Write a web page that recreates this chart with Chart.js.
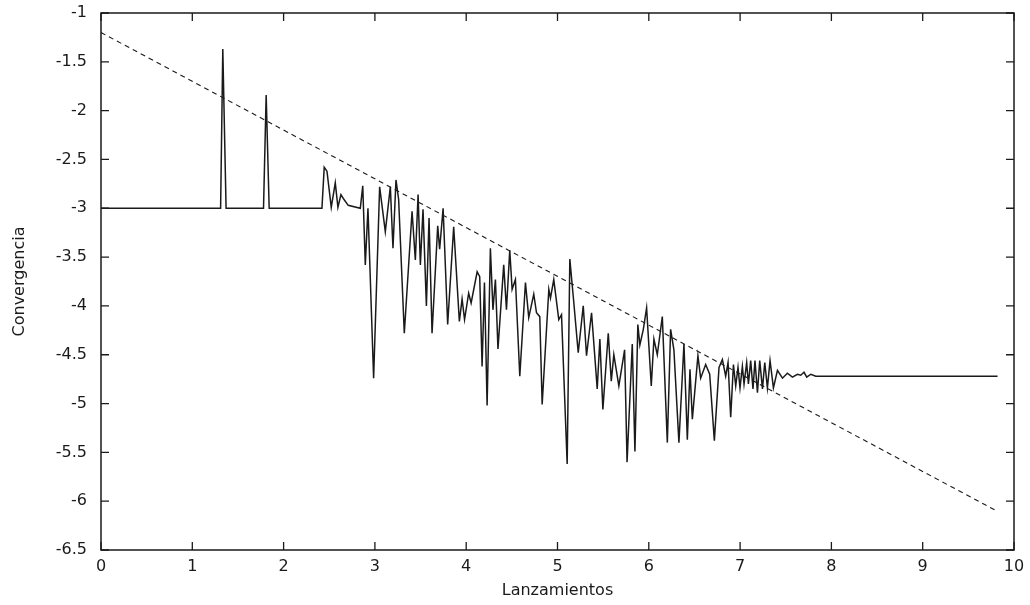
<!DOCTYPE html>
<html>
<head>
<meta charset="utf-8">
<script src="https://cdn.jsdelivr.net/npm/chart.js@4.4.1/dist/chart.umd.min.js"></script>
<style>
  html, body { margin: 0; padding: 0; background: #ffffff; }
  #wrap { width: 1030px; height: 605px; position: relative; }
</style>
</head>
<body>
<div id="wrap"><canvas id="c" width="1030" height="605"></canvas></div>
<script>
// ---- Data ----
const xTitle = 'Lanzamientos';
const yTitle = 'Convergencia';
const xTicks = [0, 1, 2, 3, 4, 5, 6, 7, 8, 9, 10];
const yTicks = [-1, -1.5, -2, -2.5, -3, -3.5, -4, -4.5, -5, -5.5, -6, -6.5];

const convX = [
  0, 1.31, 1.334, 1.37, 1.78, 1.809, 1.842, 2.42, 2.445, 2.475,
  2.522, 2.566, 2.595, 2.628, 2.654, 2.708, 2.840, 2.867, 2.895, 2.924,
  2.986, 3.052, 3.114, 3.169, 3.198, 3.231, 3.260, 3.322, 3.407, 3.443,
  3.473, 3.498, 3.527, 3.564, 3.593, 3.626, 3.688, 3.709, 3.747, 3.797,
  3.863, 3.925, 3.955, 3.982, 4.027, 4.054, 4.120, 4.148, 4.174, 4.200,
  4.229, 4.265, 4.293, 4.320, 4.348, 4.411, 4.441, 4.477, 4.503, 4.539,
  4.587, 4.649, 4.685, 4.740, 4.770, 4.806, 4.832, 4.905, 4.923, 4.959,
  5.014, 5.044, 5.106, 5.135, 5.179, 5.227, 5.282, 5.318, 5.373, 5.435,
  5.464, 5.497, 5.556, 5.589, 5.617, 5.672, 5.735, 5.762, 5.819, 5.848,
  5.880, 5.902, 5.940, 5.976, 6.027, 6.056, 6.093, 6.148, 6.203, 6.239,
  6.275, 6.330, 6.385, 6.422, 6.451, 6.477, 6.538, 6.568, 6.623, 6.667,
  6.718, 6.769, 6.806, 6.842, 6.868, 6.897, 6.927, 6.952, 6.977, 6.999,
  7.025, 7.043, 7.072, 7.091, 7.116, 7.141, 7.163, 7.190, 7.215, 7.245,
  7.270, 7.299, 7.328, 7.365, 7.409, 7.464, 7.518, 7.573, 7.628, 7.664,
  7.700, 7.730, 7.774, 7.829, 9.82
];
const convY = [
  -3, -3, -1.37, -3, -3, -1.84, -3, -3, -2.58, -2.62,
  -2.99, -2.74, -2.99, -2.86, -2.90, -2.97, -3.00, -2.77, -3.58, -3.00,
  -4.74, -2.78, -3.24, -2.78, -3.41, -2.71, -2.91, -4.28, -3.03, -3.53,
  -2.86, -3.58, -3.01, -4.00, -3.10, -4.28, -3.18, -3.42, -3.00, -4.19,
  -3.19, -4.16, -3.93, -4.14, -3.87, -3.97, -3.65, -3.70, -4.62, -3.76,
  -5.02, -3.41, -4.04, -3.73, -4.44, -3.58, -4.04, -3.43, -3.83, -3.73,
  -4.72, -3.76, -4.12, -3.88, -4.07, -4.11, -5.01, -3.83, -3.92, -3.73,
  -4.14, -4.09, -5.62, -3.52, -3.97, -4.48, -4.00, -4.51, -4.07, -4.85,
  -4.34, -5.06, -4.28, -4.77, -4.50, -4.82, -4.45, -5.60, -4.39, -5.49,
  -4.19, -4.40, -4.24, -4.02, -4.82, -4.34, -4.50, -4.11, -5.40, -4.24,
  -4.45, -5.40, -4.39, -5.37, -4.65, -5.16, -4.51, -4.74, -4.60, -4.70,
  -5.38, -4.63, -4.55, -4.72, -4.58, -5.14, -4.60, -4.82, -4.63, -4.84,
  -4.62, -4.80, -4.58, -4.80, -4.56, -4.85, -4.56, -4.89, -4.56, -4.85,
  -4.58, -4.84, -4.56, -4.84, -4.66, -4.74, -4.69, -4.73, -4.70, -4.71,
  -4.68, -4.73, -4.70, -4.72, -4.72
];
const trendX = [0, 9.81];
const trendY = [-1.2, -6.1];

// ---- Build datasets ----
const convPoints = convX.map((x, i) => ({ x: x, y: convY[i] }));
const trendPoints = trendX.map((x, i) => ({ x: x, y: trendY[i] }));

const FONT = "'DejaVu Sans', 'Liberation Sans', Arial, sans-serif";
const INK = '#1a1a1a';

const framePlugin = {
  id: 'frame',
  afterDatasetsDraw(chart) {
    const { ctx, chartArea: a, scales } = chart;
    ctx.save();
    ctx.strokeStyle = INK;
    ctx.lineWidth = 1.5;
    ctx.strokeRect(a.left, a.top, a.right - a.left, a.bottom - a.top);
    const len = 8;
    ctx.lineWidth = 1.3;
    ctx.beginPath();
    xTicks.forEach(v => {
      const px = scales.x.getPixelForValue(v);
      ctx.moveTo(px, a.bottom); ctx.lineTo(px, a.bottom - len);
      ctx.moveTo(px, a.top); ctx.lineTo(px, a.top + len);
    });
    yTicks.forEach(v => {
      const py = scales.y.getPixelForValue(v);
      ctx.moveTo(a.left, py); ctx.lineTo(a.left + len, py);
      ctx.moveTo(a.right, py); ctx.lineTo(a.right - len, py);
    });
    ctx.stroke();
    ctx.restore();
  }
};

new Chart(document.getElementById('c'), {
  type: 'scatter',
  data: {
    datasets: [
      {
        label: 'convergencia',
        data: convPoints,
        showLine: true,
        borderColor: INK,
        borderWidth: 1.5,
        pointRadius: 0,
        tension: 0,
        fill: false
      },
      {
        label: 'tendencia',
        data: trendPoints,
        showLine: true,
        borderColor: INK,
        borderWidth: 1.1,
        borderDash: [5, 4],
        pointRadius: 0,
        fill: false
      }
    ]
  },
  options: {
    responsive: false,
    animation: false,
    devicePixelRatio: 1,
    layout: { padding: { left: 0, top: 13, right: 16, bottom: 0 } },
    plugins: { legend: { display: false }, tooltip: { enabled: false } },
    scales: {
      x: {
        type: 'linear',
        min: 0, max: 10,
        afterBuildTicks(scale) { scale.ticks = xTicks.map(v => ({ value: v })); },
        afterFit(scale) { scale.height = 55; scale.paddingLeft = 0; scale.paddingRight = 0; },
        grid: { display: false, drawTicks: false },
        border: { display: false },
        ticks: {
          padding: 7,
          color: INK,
          font: { family: FONT, size: 16 },
          maxRotation: 0,
          callback: v => String(v)
        },
        title: {
          display: true,
          text: xTitle,
          color: INK,
          font: { family: FONT, size: 16 },
          padding: { top: 0, bottom: 5 }
        }
      },
      y: {
        type: 'linear',
        min: -6.5, max: -1,
        afterBuildTicks(scale) { scale.ticks = yTicks.map(v => ({ value: v })); },
        afterFit(scale) { scale.width = 101; scale.paddingTop = 0; scale.paddingBottom = 0; },
        grid: { display: false, drawTicks: false },
        border: { display: false },
        ticks: {
          padding: 14,
          color: INK,
          font: { family: FONT, size: 16 },
          callback: v => String(v)
        },
        title: {
          display: true,
          text: yTitle,
          color: INK,
          font: { family: FONT, size: 16 },
          padding: { top: 10, bottom: 0 }
        }
      }
    }
  },
  plugins: [framePlugin]
});
</script>
</body>
</html>
